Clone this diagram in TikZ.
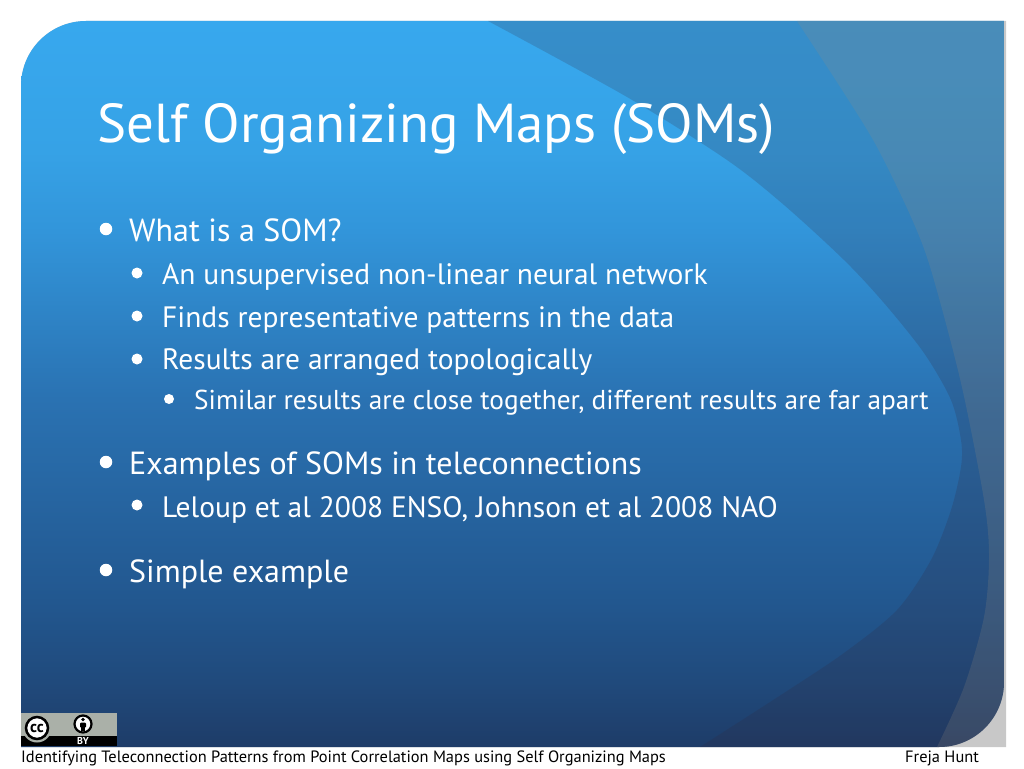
\documentclass[tikz,border=0pt]{standalone}
\usepackage{fontspec}
\setmainfont{PT Sans}
\newcommand{\SlideShape}{(21,86) arc (180:270:65) -- (1004,21) -- (1004,682) arc (0:90:65) -- (21,747) -- cycle}
\newcommand{\SwooshA}{plot[smooth] coordinates {(488,21) (627,97) (727,160) (784,205) (844,260) (884,303) (924,353) (951,400) (961,440) (961,467) (951,510) (931,560) (897,610) (844,653) (784,693) (700,747)} -- (1004,747) -- (1004,21) -- cycle}
\newcommand{\SwooshB}{plot[smooth] coordinates {(797,21) (844,93) (877,147) (911,217) (931,270) (961,383) (984,500) (989,557) (984,617) (964,687) (937,747)} -- (1004,747) -- (1004,21) -- cycle}
\definecolor{swooshdark}{RGB}{50,40,60}
\definecolor{swooshgray}{RGB}{150,140,125}
\definecolor{slidegray}{HTML}{C8C8C8}
\definecolor{ccgray}{HTML}{AAB0A8}
\definecolor{fadeA}{HTML}{1E3C68}
\definecolor{fadeB}{HTML}{204A7C}
\definecolor{fadeC}{HTML}{22578F}
\definecolor{fadeD}{HTML}{2A72B2}
\definecolor{fadeE}{HTML}{3295DA}
\definecolor{fadeF}{HTML}{36A2E6}
\definecolor{fadeG}{HTML}{37A8EE}
\pgfdeclareverticalshading{slidefade}{100bp}{color(0bp)=(fadeA); color(25bp)=(fadeA); color(29.5bp)=(fadeB); color(35bp)=(fadeC); color(49bp)=(fadeD); color(60.5bp)=(fadeE); color(66bp)=(fadeF); color(75bp)=(fadeG); color(100bp)=(fadeG)}
\tikzset{
  bulletdot/.style={circle, fill=white, inner sep=0pt},
  itemtext/.style={anchor=base west, text=white, inner sep=0pt},
  levelone/.style={itemtext, font=\fontsize{32}{35}\selectfont},
  leveltwo/.style={itemtext, font=\fontsize{29.5}{32}\selectfont},
  levelthree/.style={itemtext, font=\fontsize{27.3}{30}\selectfont},
  footertext/.style={anchor=base west, inner sep=0pt, text=black, font=\fontsize{16.4}{18}\selectfont},
}
\begin{document}
\begin{tikzpicture}[x=1pt,y=-1pt]
\useasboundingbox (0,0) rectangle (1024,768);
\fill[white] (0,0) rectangle (1024,768);
\fill[slidegray] (21,86) arc (180:270:65) -- (1006,21) -- (1006,747) -- (21,747) -- cycle;
\begin{scope}
\clip \SlideShape;
\shade[shading=slidefade] (21,21) rectangle (1004,747);
\fill[swooshdark, opacity=0.2] \SwooshA;
\fill[swooshgray, opacity=0.2] \SwooshB;
\end{scope}
% title
\node[itemtext, font=\fontsize{54.8}{60}\selectfont] (title) at (97.5,142) {Self Organizing Maps (SOMs)};
% bullets
\node[bulletdot, minimum size=12.5pt] (d1) at (106,229) {};
\node[levelone] (t1) at (129,241) {What is a SOM?};
\node[bulletdot, minimum size=11pt] (d2) at (137,273) {};
\node[leveltwo] (t2) at (162,284) {An unsupervised non-linear neural network};
\node[bulletdot, minimum size=11pt] (d3) at (137,316) {};
\node[leveltwo] (t3) at (162,327) {Finds representative patterns in the data};
\node[bulletdot, minimum size=11pt] (d4) at (137,359) {};
\node[leveltwo] (t4) at (162,369) {Results are arranged topologically};
\node[bulletdot, minimum size=10pt] (d5) at (169,399) {};
\node[levelthree] (t5) at (194,409) {Similar results are close together, different results are far apart};
\node[bulletdot, minimum size=12.5pt] (d6) at (106,462) {};
\node[levelone] (t6) at (129,474) {Examples of SOMs in teleconnections};
\node[bulletdot, minimum size=11pt] (d7) at (137,505) {};
\node[leveltwo] (t7) at (162,517) {Leloup et al 2008 ENSO, Johnson et al 2008 NAO};
\node[bulletdot, minimum size=12.5pt] (d8) at (106,570) {};
\node[levelone] (t8) at (129,582) {Simple example};
% licence badge
\fill[ccgray] (21,712.5) rectangle (117,736);
\fill[black] (21,736) rectangle (117,746);
\fill[ccgray] (37,728) circle (14.5);
\node[circle, draw=black, line width=2.5pt, fill=white, minimum size=22pt, inner sep=0pt, font=\bfseries\fontsize{16}{16}\selectfont] (cc) at (37,728) {cc};
\node[circle, draw=black, line width=2.2pt, fill=white, minimum size=17pt, inner sep=0pt] (by) at (83,724) {};
\fill[black] (83,719.5) circle (1.9);
\fill[black, rounded corners=1pt] (80,722.5) rectangle (86,727.5);
\fill[black] (81.3,727) rectangle (84.7,731);
\node[text=white, inner sep=0pt, font=\bfseries\fontsize{10}{10}\selectfont] (bytext) at (83,741) {BY};
% footer
\node[footertext] (foot) at (21,762) {Identifying Teleconnection Patterns from Point Correlation Maps using Self Organizing Maps};
\node[footertext] (name) at (905,762) {Freja Hunt};
\end{tikzpicture}
\end{document}
